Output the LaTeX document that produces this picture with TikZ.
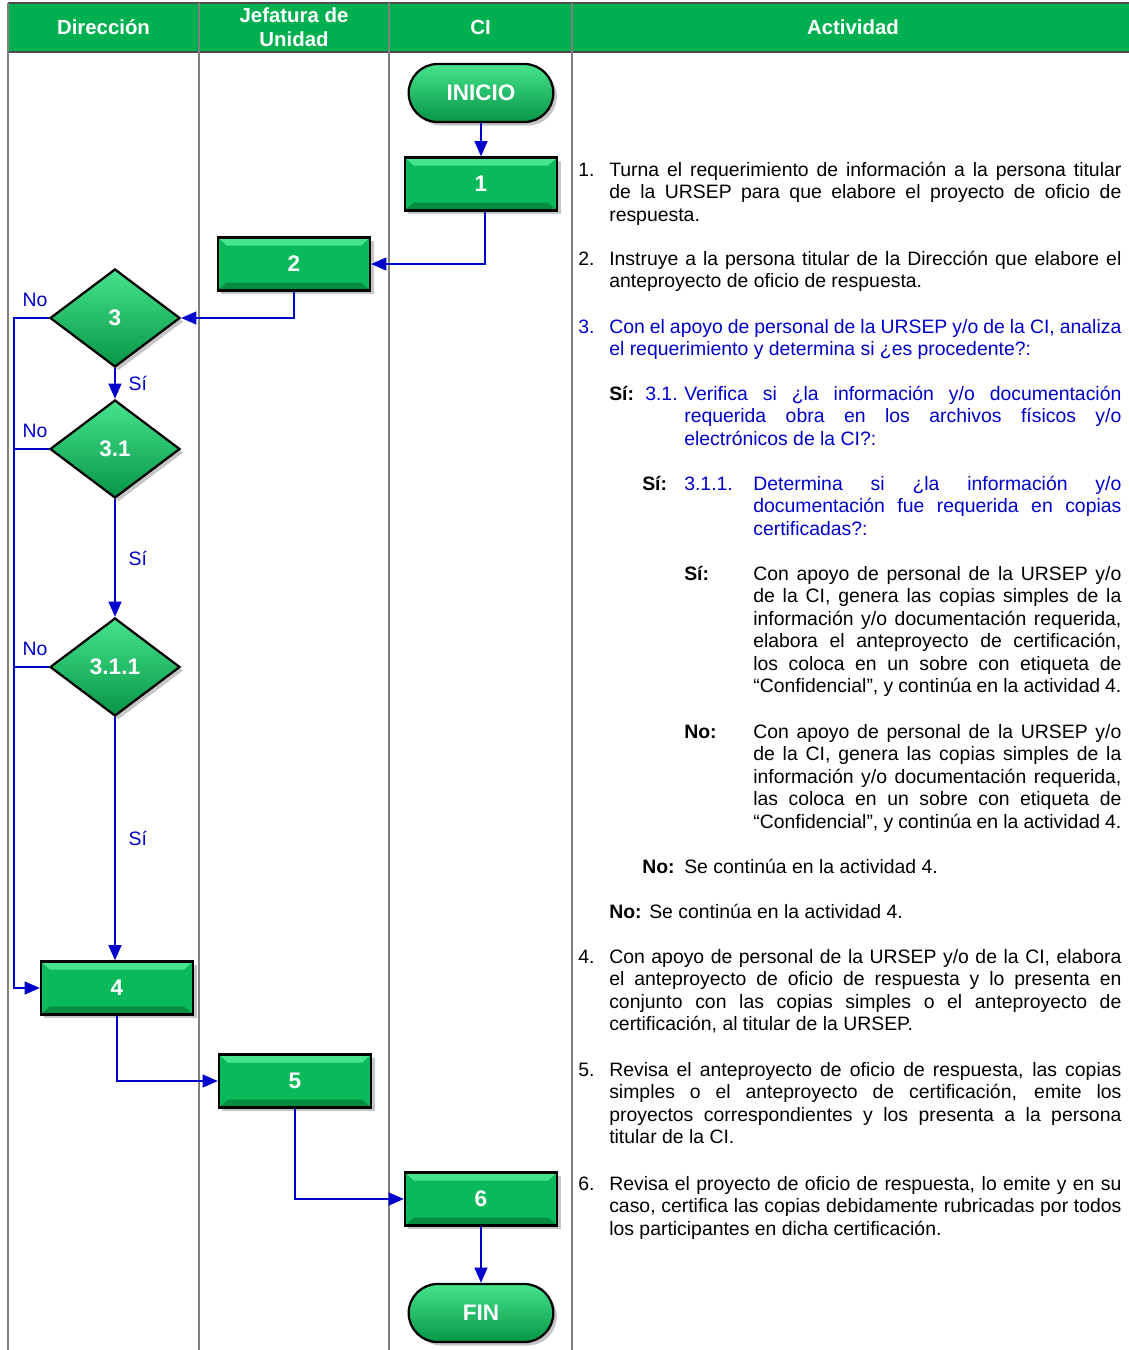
\documentclass[tikz,border=0pt]{standalone}
\usepackage{fontspec}
\setmainfont{Liberation Sans}
\usetikzlibrary{positioning, shapes.geometric, shapes.misc, shadows, arrows.meta}
\definecolor{hdrgreen}{RGB}{0,176,80}
\definecolor{boxgreen}{RGB}{10,186,90}
\definecolor{boxlight}{RGB}{70,228,140}
\definecolor{boxdark}{RGB}{5,140,65}
\definecolor{flowblue}{RGB}{0,0,205}
\newcommand{\actfont}{\fontsize{13.8}{16}\selectfont}
\tikzset{>={Triangle[length=0.38cm, width=0.32cm]}}

\begin{document}
\begin{tikzpicture}
    [x=0.025cm, y=-0.025cm,
      green3d/.style={draw=black, line width=1.6pt, text=white,
        drop shadow={shadow xshift=2.5pt, shadow yshift=-2.5pt, opacity=0.45},
        font=\fontsize{16}{16}\selectfont\bfseries},
      shaded3d/.style={green3d, top color=boxlight, middle color=boxgreen, bottom color=boxdark!80!boxgreen},
      stepbox/.style={green3d, rectangle, fill=boxgreen, minimum width=3.8cm, minimum height=1.325cm,
        path picture={
          \fill[boxlight] (path picture bounding box.north west) -- (path picture bounding box.north east)
            -- ([shift={(-0.22cm,-0.2cm)}]path picture bounding box.north east)
            -- ([shift={(0.22cm,-0.2cm)}]path picture bounding box.north west) -- cycle;
          \fill[boxdark] (path picture bounding box.south west) -- (path picture bounding box.south east)
            -- ([shift={(-0.22cm,0.2cm)}]path picture bounding box.south east)
            -- ([shift={(0.22cm,0.2cm)}]path picture bounding box.south west) -- cycle;
        }},
      endbox/.style={shaded3d, rounded rectangle, minimum width=3.85cm, minimum height=1.45cm},
      decision/.style={shaded3d, diamond, minimum width=3.25cm, minimum height=2.45cm, inner sep=0pt},
      flow/.style={draw=flowblue, line width=1.3pt, ->},
      lbl/.style={text=flowblue, font=\actfont},
      hdr/.style={text=white, font=\fontsize{14.5}{17}\selectfont\bfseries, align=center},
      act/.style={anchor=base west, inner sep=0pt, font=\actfont}]

    \useasboundingbox (0,0) rectangle (1129,1350);

    % table
    \fill[hdrgreen] (8,3) rectangle (1129,52);
    \draw[gray!60!black, line width=1pt] (8,3) -- (1129,3) (8,52) -- (1129,52);
    \foreach \x in {8,199,389,572}
      \draw[gray, line width=1pt] (\x,3) -- (\x,1350);

    \node[hdr] (h-dir) at (103.5,27.5) {Dirección};
    \node[hdr] (h-jef) at (294,27.5) {Jefatura de\\Unidad};
    \node[hdr] (h-ci) at (480.5,27.5) {CI};
    \node[hdr] (h-act) at (853,27.5) {Actividad};

    % flow
    \node[endbox] (inicio) at (481,93) {INICIO};
    \node[stepbox] (s1) at (481,184) {1};
    \node[stepbox] (s2) at (294,264) {2};
    \node[decision] (d3) at (115,318) {3};
    \node[decision] (d31) at (115,449) {3.1};
    \node[decision] (d311) at (115,667) {3.1.1};
    \node[stepbox] (s4) at (117,988) {4};
    \node[stepbox] (s5) at (295,1081) {5};
    \node[stepbox] (s6) at (481,1199) {6};
    \node[endbox] (fin) at (481,1313) {FIN};
    \coordinate (bus) at (14,318);

    \draw[flow] (inicio) -- (s1);
    \draw[flow] ([xshift=3pt]s1.south) |- (s2.east);
    \draw[flow] (s2.south) |- (d3.east);
    \draw[flow] (d3) -- node[lbl, right=0.2cm] {Sí} (d31);
    \draw[flow] (d31) -- node[lbl, right=0.2cm] {Sí} (d311);
    \draw[flow] (d311) -- node[lbl, right=0.2cm] {Sí} (d311 |- s4.north);
    \draw[flow] (d3.west) -- node[lbl, pos=0.4, above=0.15cm] {No} (bus) |- (s4.west);
    \draw[flow, -] (d31.west) -- node[lbl, pos=0.4, above=0.15cm] {No} (d31.west -| bus);
    \draw[flow, -] (d311.west) -- node[lbl, pos=0.4, above=0.15cm] {No} (d311.west -| bus);
    \draw[flow] (s4.south) |- (s5.west);
    \draw[flow] (s5.south) |- (s6.west);
    \draw[flow] (s6) -- (fin);

    % activity column
    \node[act] (a1) at (578,176) {\parbox[t]{13.575cm}{\hangindent=0.775cm\hangafter=1%
      \makebox[0.775cm][l]{1.}Turna el requerimiento de información a la persona titular\linebreak
      de la URSEP para que elabore el proyecto de oficio de\linebreak respuesta.}};
    \node[act] (a2) at (578,265) {\parbox[t]{13.575cm}{\hangindent=0.775cm\hangafter=1%
      \makebox[0.775cm][l]{2.}Instruye a la persona titular de la Dirección que elabore el\linebreak
      anteproyecto de oficio de respuesta.}};
    \node[act, text=flowblue] (a3) at (578,333) {\parbox[t]{13.575cm}{\hangindent=0.775cm\hangafter=1%
      \makebox[0.775cm][l]{3.}Con el apoyo de personal de la URSEP y/o de la CI, analiza\linebreak
      el requerimiento y determina si ¿es procedente?:}};
    \node[act] (a31) at (609,400) {\parbox[t]{12.8cm}{\hangindent=1.875cm\hangafter=1%
      \makebox[0.9cm][l]{\textbf{Sí:}}\makebox[0.975cm][l]{\textcolor{flowblue}{3.1.}}%
      \textcolor{flowblue}{Verifica si ¿la información y/o documentación\linebreak
      requerida obra en los archivos físicos y/o\linebreak electrónicos de la CI?:}}};
    \node[act] (a311) at (642,490) {\parbox[t]{11.975cm}{\hangindent=2.775cm\hangafter=1%
      \makebox[1.05cm][l]{\textbf{Sí:}}\makebox[1.725cm][l]{\textcolor{flowblue}{3.1.1.}}%
      \textcolor{flowblue}{Determina si ¿la información y/o\linebreak
      documentación fue requerida en copias\linebreak certificadas?:}}};
    \node[act] (a311-si) at (684,580) {\parbox[t]{10.925cm}{\hangindent=1.725cm\hangafter=1%
      \makebox[1.725cm][l]{\textbf{Sí:}}Con apoyo de personal de la URSEP y/o\linebreak
      de la CI, genera las copias simples de la\linebreak
      información y/o documentación requerida,\linebreak
      elabora el anteproyecto de certificación,\linebreak
      los coloca en un sobre con etiqueta de\linebreak
      “Confidencial”, y continúa en la actividad 4.}};
    \node[act] (a311-no) at (684,738) {\parbox[t]{10.925cm}{\hangindent=1.725cm\hangafter=1%
      \makebox[1.725cm][l]{\textbf{No:}}Con apoyo de personal de la URSEP y/o\linebreak
      de la CI, genera las copias simples de la\linebreak
      información y/o documentación requerida,\linebreak
      las coloca en un sobre con etiqueta de\linebreak
      “Confidencial”, y continúa en la actividad 4.}};
    \node[act] (a31-no) at (642,873)
      {\makebox[1.05cm][l]{\textbf{No:}}Se continúa en la actividad 4.};
    \node[act] (a3-no) at (609,918)
      {\makebox[1.0cm][l]{\textbf{No:}}Se continúa en la actividad 4.};
    \node[act] (a4) at (578,963) {\parbox[t]{13.575cm}{\hangindent=0.775cm\hangafter=1%
      \makebox[0.775cm][l]{4.}Con apoyo de personal de la URSEP y/o de la CI, elabora\linebreak
      el anteproyecto de oficio de respuesta y lo presenta en\linebreak
      conjunto con las copias simples o el anteproyecto de\linebreak
      certificación, al titular de la URSEP.}};
    \node[act] (a5) at (578,1076) {\parbox[t]{13.575cm}{\hangindent=0.775cm\hangafter=1%
      \makebox[0.775cm][l]{5.}Revisa el anteproyecto de oficio de respuesta, las copias\linebreak
      simples o el anteproyecto de certificación, emite los\linebreak
      proyectos correspondientes y los presenta a la persona\linebreak
      titular de la CI.}};
    \node[act] (a6) at (578,1190) {\parbox[t]{13.575cm}{\hangindent=0.775cm\hangafter=1%
      \makebox[0.775cm][l]{6.}Revisa el proyecto de oficio de respuesta, lo emite y en su\linebreak
      caso, certifica las copias debidamente rubricadas por todos\linebreak
      los participantes en dicha certificación.}};
  \end{tikzpicture}
\end{document}
